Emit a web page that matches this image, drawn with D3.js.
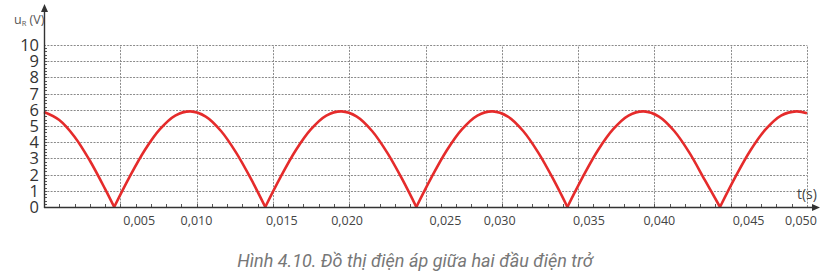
<!DOCTYPE html>
<html>
<head>
<meta charset="utf-8">
<script src="https://cdn.jsdelivr.net/npm/d3@7"></script>
<style>
	body { margin: 0; background: #fff; }
	svg { display: block; }
</style>
</head>
<body>
<svg id="chart"></svg>
<script>
// values (time in s, u_R in V)
const times = [
	0.0000, 0.0010, 0.0020, 0.0030, 0.0040, 0.0046,
	0.0056, 0.0066, 0.0076, 0.0086, 0.0096, 0.0106, 0.0116, 0.0126, 0.0136, 0.0145,
	0.0155, 0.0165, 0.0175, 0.0185, 0.0195, 0.0205, 0.0215, 0.0225, 0.0235, 0.0244,
	0.0254, 0.0264, 0.0274, 0.0284, 0.0294, 0.0304, 0.0314, 0.0324, 0.0334, 0.0343,
	0.0353, 0.0363, 0.0373, 0.0383, 0.0393, 0.0403, 0.0413, 0.0423, 0.0433, 0.0443,
	0.0453, 0.0463, 0.0473, 0.0483, 0.0493, 0.0500
];
const voltages = [
	5.86, 5.37, 4.34, 2.87, 1.12, 0,
	1.84, 3.50, 4.80, 5.64, 5.90, 5.58, 4.69, 3.34, 1.67, 0,
	1.84, 3.50, 4.80, 5.64, 5.90, 5.58, 4.69, 3.34, 1.67, 0,
	1.84, 3.50, 4.80, 5.64, 5.90, 5.58, 4.69, 3.34, 1.67, 0,
	1.84, 3.50, 4.80, 5.64, 5.90, 5.58, 4.69, 3.34, 1.67, 0,
	1.84, 3.50, 4.80, 5.64, 5.90, 5.78
];
const xTicks = [0.005, 0.010, 0.015, 0.020, 0.025, 0.030, 0.035, 0.040, 0.045, 0.050];
const yTicks = [0, 1, 2, 3, 4, 5, 6, 7, 8, 9, 10];
const caption = "Hình 4.10. Đồ thị điện áp giữa hai đầu điện trở";

// labels under the time axis are nudged aside from the curve's cusps
const xLabelShift = [3, -16, -7, -18, 4, -18, -5, -11, 2, -22];

let width = 831;
let height = 279;

let svg = d3.select("#chart")
	.attr("width", width)
	.attr("height", height);

let x = d3.scaleLinear().domain([0, 0.05]).range([44, 807]);
let y = d3.scaleLinear().domain([0, 10]).range([207, 45]);

let fmt = (v) => d3.format(".3f")(v).replace(".", ",");

// grid
let grid = svg.append("g")
	.attr("stroke", "#8a8a8a")
	.attr("stroke-width", 1)
	.attr("stroke-dasharray", "2,1.3");

grid.selectAll(".h")
	.data(yTicks.filter(d => d > 0))
	.enter()
	.append("line")
	.attr("x1", x(0))
	.attr("x2", x(0.05))
	.attr("y1", d => Math.round(y(d)) + 0.5)
	.attr("y2", d => Math.round(y(d)) + 0.5);

grid.selectAll(".v")
	.data(xTicks)
	.enter()
	.append("line")
	.attr("x1", d => Math.round(x(d)) + 0.5)
	.attr("x2", d => Math.round(x(d)) + 0.5)
	.attr("y1", y(0))
	.attr("y2", y(10));

// minor ticks
svg.append("g")
	.attr("stroke", "#555")
	.selectAll("line")
	.data(d3.range(1, 50))
	.enter()
	.append("line")
	.attr("x1", d => Math.round(x(d / 1000)) + 0.5)
	.attr("x2", d => Math.round(x(d / 1000)) + 0.5)
	.attr("y1", y(0))
	.attr("y2", y(0) - 3);

svg.append("g")
	.attr("stroke", "#555")
	.selectAll("line")
	.data(d3.range(1, 50))
	.enter()
	.append("line")
	.attr("x1", x(0))
	.attr("x2", x(0) + 3)
	.attr("y1", d => Math.round(y(d / 5)) + 0.5)
	.attr("y2", d => Math.round(y(d / 5)) + 0.5);

// curve, one arch between each pair of zeros so the cusps stay sharp
let points = times.map((t, i) => ({t: t, v: voltages[i]}));
let arches = [];
let current = [];
points.forEach((p) => {
	current.push(p);
	if (p.v === 0) {
		arches.push(current);
		current = [p];
	}
});
arches.push(current);

let line = d3.line()
	.x(d => x(d.t))
	.y(d => y(d.v))
	.curve(d3.curveCatmullRom.alpha(0.5));

svg.append("g")
	.selectAll("path")
	.data(arches)
	.enter()
	.append("path")
	.attr("d", line)
	.attr("fill", "none")
	.attr("stroke", "#e52b2b")
	.attr("stroke-width", 2.6)
	.attr("stroke-linejoin", "miter");

// axes
svg.append("line")
	.attr("x1", x(0)).attr("x2", 814)
	.attr("y1", y(0) + 0.5).attr("y2", y(0) + 0.5)
	.attr("stroke", "#333").attr("stroke-width", 1.4);
svg.append("path")
	.attr("d", `M820,${y(0) + 0.5} L812,${y(0) - 3} L812,${y(0) + 4} Z`)
	.attr("fill", "#333");

svg.append("line")
	.attr("x1", x(0) + 0.5).attr("x2", x(0) + 0.5)
	.attr("y1", y(0) + 1).attr("y2", 10)
	.attr("stroke", "#333").attr("stroke-width", 1.4);
svg.append("path")
	.attr("d", `M${x(0) + 0.5},4 L${x(0) - 3},12 L${x(0) + 4},12 Z`)
	.attr("fill", "#333");

// tick labels
svg.append("g")
	.selectAll("text")
	.data(yTicks)
	.enter()
	.append("text")
	.attr("x", 39)
	.attr("y", d => y(d) + 6)
	.attr("text-anchor", "end")
	.attr("font-family", "Open Sans")
	.attr("font-size", 16.5)
	.attr("fill", "#333")
	.text(d => d);

svg.append("g")
	.selectAll("text")
	.data(xTicks)
	.enter()
	.append("text")
	.attr("x", (d, i) => x(d) + xLabelShift[i])
	.attr("y", 225)
	.attr("font-family", "Open Sans")
	.attr("font-size", 12.5)
	.attr("fill", "#444")
	.text(d => fmt(d));

// axis titles
let yTitle = svg.append("text")
	.attr("x", 14)
	.attr("y", 24)
	.attr("font-family", "Open Sans")
	.attr("font-size", 12.5)
	.attr("fill", "#555");
yTitle.append("tspan").text("u");
yTitle.append("tspan").attr("font-size", 7.5).attr("dy", 2).text("R");
yTitle.append("tspan").attr("dy", -2).text(" (V)");

svg.append("text")
	.attr("x", 797)
	.attr("y", 199)
	.attr("font-family", "Open Sans")
	.attr("font-size", 14)
	.attr("fill", "#444")
	.text("t(s)");

// caption
svg.append("text")
	.attr("x", 415)
	.attr("y", 267)
	.attr("text-anchor", "middle")
	.attr("font-family", "Roboto")
	.attr("font-style", "italic")
	.attr("font-size", 18)
	.attr("fill", "#777")
	.text(caption);
</script>
</body>
</html>
